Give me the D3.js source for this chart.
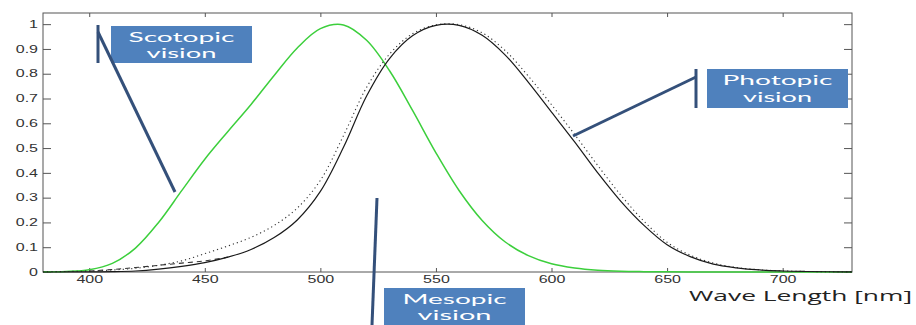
<!DOCTYPE html>
<html>
<head>
<meta charset="utf-8">
<title>Luminous efficiency</title>
<script src="https://cdn.jsdelivr.net/npm/d3@7"></script>
<style>
  body { margin: 0; background: #fff; }
  .axis text { font-family: "Liberation Sans", Arial, sans-serif; font-size: 10px; fill: #333; }
  .axis line { stroke: #555; }
  .axis path { display: none; }
  .note text { font-family: Lato, sans-serif; font-size: 14px; fill: #fff; }
</style>
</head>
<body>
<script>
//Data (every 10 nm)
var wavelengths = [380, 390, 400, 410, 420, 430, 440, 450, 460, 470, 480, 490,
                   500, 510, 520, 530, 540, 550, 560, 570, 580, 590, 600, 610,
                   620, 630, 640, 650, 660, 670, 680, 690, 700, 710, 720, 730];

//Scotopic (green)
var scotopic = [0.0006, 0.0022, 0.0093, 0.0348, 0.0966, 0.1998, 0.3281, 0.455, 0.567, 0.676, 0.793, 0.904,
                0.982, 0.997, 0.935, 0.811, 0.650, 0.481, 0.329, 0.208, 0.121, 0.066, 0.033, 0.016,
                0.007, 0.003, 0.0015, 0.0007, 0.0003, 0.0001, 0.0001, 0, 0, 0, 0, 0];

//Photopic (solid black)
var photopic = [0.00004, 0.00012, 0.0004, 0.0012, 0.004, 0.0116, 0.023, 0.038, 0.060, 0.091, 0.139, 0.210,
                0.325, 0.503, 0.710, 0.862, 0.954, 0.995, 0.995, 0.955, 0.875, 0.765, 0.645, 0.525,
                0.400, 0.285, 0.188, 0.110, 0.062, 0.032, 0.017, 0.0082, 0.0041, 0.0021, 0.0010, 0.0005];

//Photopic, dotted variant
var photopicDotted = [0.001, 0.002, 0.004, 0.008, 0.015, 0.027, 0.045, 0.074, 0.105, 0.140, 0.188, 0.258,
                      0.370, 0.550, 0.745, 0.880, 0.962, 0.997, 0.998, 0.965, 0.893, 0.790, 0.675, 0.555,
                      0.430, 0.310, 0.205, 0.120, 0.068, 0.036, 0.018, 0.009, 0.0045, 0.0022, 0.0011, 0.0005];

//Dashed variant, only visible at short wavelengths
var dashedWl = [400, 410, 420, 430, 440, 450, 460];
var photopicDashed = [0.004, 0.010, 0.018, 0.027, 0.036, 0.045, 0.060];

var xTicks = [400, 450, 500, 550, 600, 650, 700];
var yTicks = [0, 0.1, 0.2, 0.3, 0.4, 0.5, 0.6, 0.7, 0.8, 0.9, 1];

var svgwidth = 916,
    svgheight = 325,
    margin = {top: 13, right: 64, bottom: 53, left: 43},
    width = svgwidth - margin.left - margin.right,
    height = svgheight - margin.top - margin.bottom;

var svg = d3.select("body").append("svg")
    .attr("width", svgwidth)
    .attr("height", svgheight);

var x = d3.scaleLinear().domain([380, 730]).range([0, width]),
    y = d3.scaleLinear().domain([0, 1.045]).range([height, 0]);

var g = svg.append("g")
    .attr("transform", "translate(" + margin.left + "," + margin.top + ")");

//Stretch tick labels sideways like the source picture
function stretch(sel, k) {
  sel.selectAll("text").each(function() {
    var w = this.getComputedTextLength();
    if (w > 0) d3.select(this).attr("textLength", w * k).attr("lengthAdjust", "spacingAndGlyphs");
  });
}

//Axes, ticks pointing inwards on all four sides
g.append("g")
    .attr("class", "axis")
    .attr("transform", "translate(0," + height + ")")
    .call(d3.axisBottom(x).tickValues(xTicks).tickSizeInner(-4).tickSizeOuter(0).tickPadding(4))
    .call(stretch, 1.6);

g.append("g")
    .attr("class", "axis")
    .call(d3.axisTop(x).tickValues(xTicks).tickSizeInner(-4).tickSizeOuter(0).tickFormat(""));

g.append("g")
    .attr("class", "axis")
    .call(d3.axisLeft(y).tickValues(yTicks).tickSizeInner(-8).tickSizeOuter(0).tickPadding(5)
      .tickFormat(function(d) { return d3.format("~g")(d); }))
    .call(stretch, 1.6);

g.append("g")
    .attr("class", "axis")
    .attr("transform", "translate(" + width + ",0)")
    .call(d3.axisRight(y).tickValues(yTicks).tickSizeInner(-8).tickSizeOuter(0).tickFormat(""));

//Frame
g.append("rect")
    .attr("width", width)
    .attr("height", height)
    .attr("fill", "none")
    .attr("stroke", "#555")
    .attr("stroke-width", 1);

//Curves
function curve(wl, vals) {
  return d3.line()
      .x(function(d, i) { return x(wl[i]); })
      .y(function(d) { return y(d); })
      .curve(d3.curveCatmullRom.alpha(0.5))(vals);
}

g.append("path")
    .attr("d", curve(wavelengths, scotopic))
    .attr("fill", "none")
    .attr("stroke", "#3ccf3c")
    .attr("stroke-width", 1.5);

g.append("path")
    .attr("d", curve(wavelengths, photopicDotted))
    .attr("fill", "none")
    .attr("stroke", "#333")
    .attr("stroke-width", 1.1)
    .attr("stroke-dasharray", "1.2,3");

g.append("path")
    .attr("d", curve(dashedWl, photopicDashed))
    .attr("fill", "none")
    .attr("stroke", "#333")
    .attr("stroke-width", 1.1)
    .attr("stroke-dasharray", "5,4");

g.append("path")
    .attr("d", curve(wavelengths, photopic))
    .attr("fill", "none")
    .attr("stroke", "#1a1a1a")
    .attr("stroke-width", 1.2);

//X axis title
svg.append("text")
    .attr("x", 689)
    .attr("y", 300.5)
    .attr("textLength", 223)
    .attr("lengthAdjust", "spacingAndGlyphs")
    .style("font-family", "'Open Sans', sans-serif")
    .style("font-size", "15px")
    .style("fill", "#222")
    .text("Wave Length [nm]");

//Call-out labels
var lineColor = "#34507a",
    boxColor = "#4f81bd";

var notes = svg.append("g").attr("class", "note");

function callout(box, lines, bar, pointer) {
  notes.append("rect")
      .attr("x", box[0]).attr("y", box[1])
      .attr("width", box[2]).attr("height", box[3])
      .attr("fill", boxColor);
  lines.forEach(function(l) {
    notes.append("text")
        .attr("x", box[0] + box[2] / 2)
        .attr("y", l[1])
        .attr("text-anchor", "middle")
        .attr("textLength", l[2])
        .attr("lengthAdjust", "spacingAndGlyphs")
        .text(l[0]);
  });
  if (bar) {
    notes.append("line")
        .attr("x1", bar[0]).attr("y1", bar[1])
        .attr("x2", bar[0]).attr("y2", bar[2])
        .attr("stroke", lineColor).attr("stroke-width", 3);
  }
  notes.append("line")
      .attr("x1", pointer[0]).attr("y1", pointer[1])
      .attr("x2", pointer[2]).attr("y2", pointer[3])
      .attr("stroke", lineColor).attr("stroke-width", 3);
}

callout([111, 26, 141, 37], [["Scotopic", 41.5, 106], ["vision", 58.3, 70]],
        [98, 25, 63], [98, 32, 175, 192]);
callout([707, 69, 141, 39], [["Photopic", 85, 110], ["vision", 101.7, 69]],
        [696, 69, 108], [696, 77, 573, 136]);
callout([384, 288, 141, 40], [["Mesopic", 304, 104], ["vision", 320, 74]],
        null, [377, 198, 372, 325]);
</script>
</body>
</html>
